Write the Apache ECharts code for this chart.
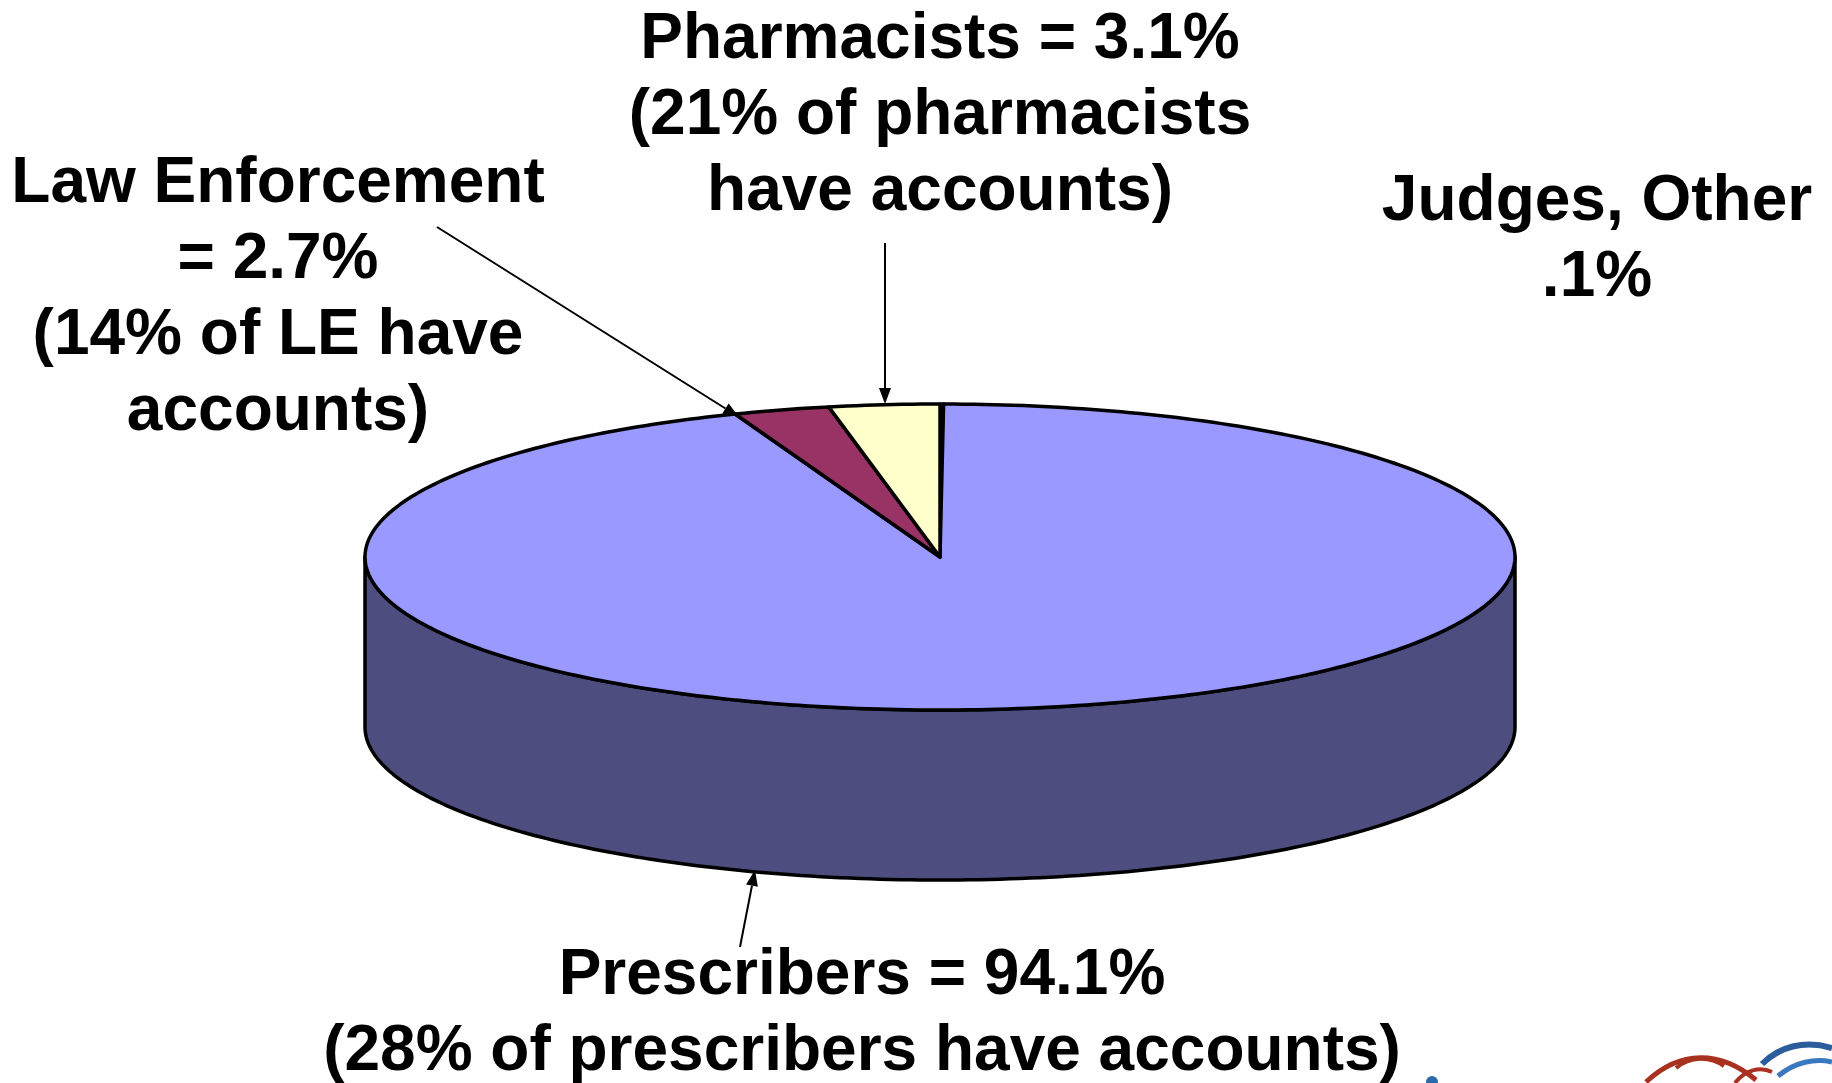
<!DOCTYPE html>
<html><head><meta charset="utf-8">
<script src="https://cdn.jsdelivr.net/npm/echarts@6/dist/echarts.min.js"></script>
<style>html,body{margin:0;padding:0;background:#fff}#c{width:1832px;height:1083px}</style>
</head><body><div id="c"></div>
<script>
// ---- data ----
const categories = ['Judges, Other', 'Prescribers', 'Law Enforcement', 'Pharmacists'];
const shares = [0.1, 94.1, 2.7, 3.1];            // % of accounts
const haveAccounts = [null, 28, 14, 21];         // % of group having accounts
const labelTexts = [
  'Judges, Other\n.1%',
  'Prescribers = 94.1%\n(28% of prescribers have accounts)',
  'Law Enforcement\n= 2.7%\n(14% of LE have\naccounts)',
  'Pharmacists = 3.1%\n(21% of pharmacists\nhave accounts)'
];
const topColors = ['#9999FF', '#9999FF', '#993366', '#FFFFCC'];
const sideColors = ['#4D4D7F', '#4D4D7F', '#4D1A33', '#808066'];

// ---- layout ----
const CX = 940, CY = 557, RX = 575, RY = 153, DEPTH = 170;
const FONT = 'bold 64px "Liberation Sans", Arial, sans-serif';
const LH = 76;

const total = shares.reduce((a, b) => a + b, 0);
const starts = [];
{ let acc = 0; shares.forEach(v => { starts.push(acc / total * 360); acc += v; }); }

function pt(deg, dy) {
  const r = deg * Math.PI / 180;
  return [CX + RX * Math.sin(r), CY + dy - RY * Math.cos(r)];
}
function arc(a, b, dy) {
  const steps = Math.max(2, Math.ceil(Math.abs(b - a)));
  const pts = [];
  for (let i = 0; i <= steps; i++) pts.push(pt(a + (b - a) * i / steps, dy));
  return pts;
}

function arrow(x1, y1, x2, y2) {
  const L = 16, W = 6;
  const dx = x2 - x1, dy = y2 - y1, len = Math.hypot(dx, dy);
  const ux = dx / len, uy = dy / len;
  const bx = x2 - ux * L, by = y2 - uy * L;
  return [
    { type: 'line', shape: { x1, y1, x2: bx, y2: by }, style: { stroke: '#000', lineWidth: 2 } },
    { type: 'polygon', shape: { points: [[x2, y2], [bx - uy * W, by + ux * W], [bx + uy * W, by - ux * W]] }, style: { fill: '#000' } }
  ];
}

const labelPos = [
  { x: 1597, y: 164 },
  { x: 862, y: 938 },
  { x: 278, y: 146 },
  { x: 940, y: 2 }
];

const graphics = [];
labelTexts.forEach((t, i) => {
  graphics.push({
    type: 'text', x: labelPos[i].x, y: labelPos[i].y, z: 10,
    style: { text: t, font: FONT, fill: '#000', align: 'center', verticalAlign: 'top', lineHeight: LH }
  });
});
graphics.push(...arrow(437, 227, 739, 417));
graphics.push(...arrow(885, 243, 885, 404));
graphics.push(...arrow(740, 947, 755, 870));

// decorative logo fragment, bottom right corner
graphics.push(
  { type: 'bezierCurve', shape: { x1: 1646, y1: 1082, cpx1: 1680, cpy1: 1050, cpx2: 1720, cpy2: 1050, x2: 1756, y2: 1080 }, style: { stroke: '#A8311F', lineWidth: 5, fill: null } },
  { type: 'bezierCurve', shape: { x1: 1676, y1: 1068, cpx1: 1690, cpy1: 1056, cpx2: 1710, cpy2: 1056, x2: 1724, y2: 1066 }, style: { stroke: '#A8311F', lineWidth: 4, fill: null } },
  { type: 'bezierCurve', shape: { x1: 1735, y1: 1083, cpx1: 1745, cpy1: 1070, cpx2: 1760, cpy2: 1066, x2: 1772, y2: 1072 }, style: { stroke: '#A8311F', lineWidth: 4, fill: null } },
  { type: 'bezierCurve', shape: { x1: 1762, y1: 1064, cpx1: 1780, cpy1: 1046, cpx2: 1805, cpy2: 1040, x2: 1832, y2: 1048 }, style: { stroke: '#2B5C9B', lineWidth: 6, fill: null } },
  { type: 'bezierCurve', shape: { x1: 1778, y1: 1076, cpx1: 1795, cpy1: 1062, cpx2: 1815, cpy2: 1058, x2: 1832, y2: 1062 }, style: { stroke: '#3A78C0', lineWidth: 5, fill: null } },
  { type: 'circle', shape: { cx: 1432, cy: 1082, r: 6 }, style: { fill: '#2B6AA8' } }
);

const chart = echarts.init(document.getElementById('c'), null, { renderer: 'canvas' });
chart.setOption({
  backgroundColor: '#ffffff',
  animation: false,
  graphic: graphics,
  series: [{
    type: 'custom',
    coordinateSystem: 'none',
    dimensions: ['idx', 'share'],
    data: shares.map((v, i) => [i, v]),
    renderItem(params, api) {
      const i = params.dataIndex;
      const v = api.value(1);
      const a1 = starts[i], a2 = a1 + v / total * 360;
      const children = [];
      const s1 = Math.max(a1, 90), s2 = Math.min(a2, 270);
      if (s2 > s1) {
        const top = arc(s1, s2, 0), bot = arc(s2, s1, DEPTH);
        children.push({ type: 'polygon', z2: 1, shape: { points: top.concat(bot) },
          style: { fill: sideColors[i], stroke: '#000', lineWidth: 3.5, lineJoin: 'round' } });
      }
      children.push({ type: 'polygon', z2: 5, shape: { points: [[CX, CY]].concat(arc(a1, a2, 0)) },
        style: { fill: topColors[i], stroke: '#000', lineWidth: 3.5, lineJoin: 'round' } });
      return { type: 'group', children };
    }
  }]
});
</script></body></html>
